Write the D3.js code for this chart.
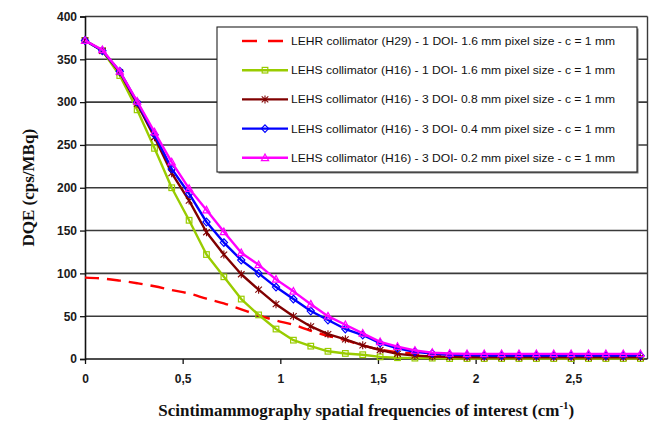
<!DOCTYPE html>
<html>
<head>
<meta charset="utf-8">
<script src="https://cdn.jsdelivr.net/npm/d3@7"></script>
<style>
  body { margin: 0; background: #fff; }
  svg { display: block; }
</style>
</head>
<body>
<div id="chart"></div>
<script>
// frequencies (cm-1) of the sampled points
var freq = [0, 0.089, 0.178, 0.267, 0.356, 0.444, 0.533, 0.622, 0.711, 0.8, 0.889,
  0.978, 1.067, 1.156, 1.244, 1.333, 1.422, 1.511, 1.6, 1.689, 1.778, 1.867, 1.956,
  2.044, 2.133, 2.222, 2.311, 2.4, 2.489, 2.578, 2.667, 2.756, 2.844];

var lehrH29 = [95, 94, 91.5, 88.5, 85, 80.5, 76.5, 70.5, 65, 58, 51, 45, 40, 33, 27, 22,
  16, 11, 8, 6.5, 5.5, 4.5, 4, 3.5, 3.5, 3, 3, 3, 3, 3, 3, 3, 3];
var lehs1doi16 = [372, 360, 331, 291, 246, 200, 162, 122, 96, 70, 51.5, 35, 22, 15, 9, 6.5,
  5, 2.5, 1.5, 1, 1, 0.5, 0.5, 0.5, 0.5, 0.5, 0.5, 0.5, 0.5, 0.5, 0.5, 0.5, 0.5];
var lehs3doi08 = [372, 360, 335, 298, 259, 217, 185, 148, 122, 99, 81, 64, 50, 38, 29, 23,
  16, 10.5, 6, 4, 3, 2.5, 2, 2, 2, 2, 2, 2, 2, 2, 2, 2, 2];
var lehs3doi04 = [372, 360, 336, 300, 262, 222, 193, 160, 136, 115.5, 100, 84, 70, 56, 45.5,
  35, 28, 18.5, 12.5, 8.5, 6.5, 5, 4.5, 4, 4, 4, 4, 4, 4, 4, 4, 4, 4];
var lehs3doi02 = [372, 361, 336, 301, 265, 230, 199, 174, 148.5, 124, 110, 93, 79, 64, 50,
  40, 30, 20, 14.5, 10, 7.5, 6.5, 6, 6, 6, 6, 6, 6, 6, 6, 6, 6, 6];

var seriesNames = [
  "LEHR collimator (H29) - 1 DOI- 1.6 mm pixel size - c = 1 mm",
  "LEHS collimator (H16) - 1 DOI- 1.6 mm pixel size - c = 1 mm",
  "LEHS collimator (H16) - 3 DOI- 0.8 mm pixel size - c = 1 mm",
  "LEHS collimator (H16) - 3 DOI- 0.4 mm pixel size - c = 1 mm",
  "LEHS collimator (H16) - 3 DOI- 0.2 mm pixel size - c = 1 mm"
];
var seriesColors = ["#ff0000", "#99cc00", "#800000", "#0000ff", "#ff00ff"];
var seriesMarkers = ["none", "square", "star", "diamond", "triangle"];

var xTicks = [0, 0.5, 1, 1.5, 2, 2.5];
var xTickLabels = ["0", "0,5", "1", "1,5", "2", "2,5"];
var yTicks = [0, 50, 100, 150, 200, 250, 300, 350, 400];

var svgWidth = 649;
var svgHeight = 424;

var margin = { top: 16.5, right: 1.5, bottom: 65, left: 85 };
var width = svgWidth - margin.left - margin.right;
var height = svgHeight - margin.top - margin.bottom;

var svg = d3.select("#chart")
  .append("svg")
  .attr("width", svgWidth)
  .attr("height", svgHeight);

var chartGroup = svg.append("g")
  .attr("transform", `translate(${margin.left}, ${margin.top})`);

var xScale = d3.scaleLinear().domain([0, 2.88]).range([0, width]);
var yScale = d3.scaleLinear().domain([0, 400]).range([height, 0]);

// gridlines
chartGroup.append("g")
  .selectAll("line")
  .data(yTicks.filter(d => d > 0))
  .enter()
  .append("line")
  .attr("x1", 0)
  .attr("x2", width)
  .attr("y1", d => yScale(d))
  .attr("y2", d => yScale(d))
  .attr("stroke", "#3a3a3a")
  .attr("stroke-width", 1.6);

// right border of plot area
chartGroup.append("line")
  .attr("x1", width).attr("x2", width)
  .attr("y1", 0).attr("y2", height)
  .attr("stroke", "#3a3a3a")
  .attr("stroke-width", 1.4);

// axes
var bottomAxis = d3.axisBottom(xScale)
  .tickValues(xTicks)
  .tickSize(5)
  .tickPadding(10)
  .tickFormat((d, i) => xTickLabels[i]);
var leftAxis = d3.axisLeft(yScale)
  .tickValues(yTicks)
  .tickSize(5)
  .tickPadding(3);

var xAxis = chartGroup.append("g")
  .attr("transform", `translate(0, ${height})`)
  .call(bottomAxis);
var yAxis = chartGroup.append("g")
  .call(leftAxis);

[xAxis, yAxis].forEach(function(ax) {
  ax.select(".domain").attr("stroke", "#111").attr("stroke-width", 1.6);
  ax.selectAll(".tick line").attr("stroke", "#111").attr("stroke-width", 1.3);
  ax.selectAll("text")
    .attr("font-family", "Liberation Sans, Arial, sans-serif")
    .attr("font-size", "12px")
    .attr("font-weight", "bold")
    .attr("fill", "#1a1a1a");
});
xAxis.select(".domain").attr("d", `M0,0H${width}`);

// marker shapes
function drawMarker(g, type, color) {
  if (type === "square") {
    g.append("rect").attr("x", -2.8).attr("y", -2.8).attr("width", 5.6).attr("height", 5.6)
      .attr("fill", "none").attr("stroke", color).attr("stroke-width", 1.2);
  } else if (type === "diamond") {
    g.append("path").attr("d", "M0,-3.8L3.6,0L0,3.8L-3.6,0Z")
      .attr("fill", "none").attr("stroke", color).attr("stroke-width", 1.2);
  } else if (type === "triangle") {
    g.append("path").attr("d", "M0,-3.8L3.6,2.8L-3.6,2.8Z")
      .attr("fill", "none").attr("stroke", color).attr("stroke-width", 1.2);
  } else if (type === "star") {
    g.append("path").attr("d", "M0,-4V4M-3.3,-3L3.3,3M-3.3,3L3.3,-3")
      .attr("fill", "none").attr("stroke", color).attr("stroke-width", 1.1);
  }
}

var allSeries = [lehrH29, lehs1doi16, lehs3doi08, lehs3doi04, lehs3doi02];

var line = d3.line()
  .x(d => xScale(d.x))
  .y(d => yScale(d.y));

allSeries.forEach(function(values, s) {
  var pts = values.map((v, i) => ({ x: freq[i], y: v }));
  var path = chartGroup.append("path")
    .datum(pts)
    .attr("fill", "none")
    .attr("stroke", seriesColors[s])
    .attr("stroke-width", 2.4)
    .attr("stroke-linejoin", "round")
    .attr("d", line);
  if (s === 0) {
    path.attr("stroke-dasharray", "14,8").attr("d", d3.line().curve(d3.curveMonotoneX)
      .x(d => xScale(d.x)).y(d => yScale(d.y)));
  }
  if (seriesMarkers[s] !== "none") {
    chartGroup.append("g")
      .selectAll("g")
      .data(pts)
      .enter()
      .append("g")
      .attr("transform", d => `translate(${xScale(d.x)}, ${yScale(d.y)})`)
      .each(function() { drawMarker(d3.select(this), seriesMarkers[s], seriesColors[s]); });
  }
});

// legend
var legend = svg.append("g").attr("transform", "translate(217, 27)");
legend.append("rect")
  .attr("x", 1.5).attr("y", 1.5)
  .attr("width", 420).attr("height", 145)
  .attr("fill", "#777");
legend.append("rect")
  .attr("width", 420).attr("height", 145)
  .attr("fill", "#fff")
  .attr("stroke", "#222")
  .attr("stroke-width", 1.1);

seriesNames.forEach(function(name, s) {
  var ly = 14 + s * 29.2;
  var row = legend.append("g").attr("transform", `translate(0, ${ly})`);
  var sample = row.append("line")
    .attr("x1", 25).attr("x2", 71)
    .attr("y1", 0).attr("y2", 0)
    .attr("stroke", seriesColors[s])
    .attr("stroke-width", 2.4);
  if (s === 0) sample.attr("stroke-dasharray", "15,11");
  var mk = row.append("g").attr("transform", "translate(48, 0)");
  drawMarker(mk, seriesMarkers[s], seriesColors[s]);
  row.append("text")
    .attr("x", 74)
    .attr("y", 4)
    .attr("font-family", "Liberation Sans, Arial, sans-serif")
    .attr("font-size", "11.5px")
    .attr("fill", "#111")
    .attr("textLength", 324)
    .attr("lengthAdjust", "spacingAndGlyphs")
    .text(name);
});

// axis titles
svg.append("text")
  .attr("transform", `translate(34, ${margin.top + height / 2}) rotate(-90)`)
  .attr("text-anchor", "middle")
  .attr("font-family", "Liberation Serif, Times New Roman, serif")
  .attr("font-weight", "bold")
  .attr("font-size", "17px")
  .attr("fill", "#111")
  .text("DQE (cps/MBq)");

var xTitle = svg.append("text")
  .attr("x", margin.left + width / 2)
  .attr("y", 416)
  .attr("text-anchor", "middle")
  .attr("font-family", "Liberation Serif, Times New Roman, serif")
  .attr("font-weight", "bold")
  .attr("font-size", "17px")
  .attr("fill", "#111");
xTitle.append("tspan").text("Scintimammography spatial frequencies of interest (cm");
xTitle.append("tspan").attr("dy", -7).attr("font-size", "11px").text("-1");
xTitle.append("tspan").attr("dy", 7).text(")");
</script>
</body>
</html>
